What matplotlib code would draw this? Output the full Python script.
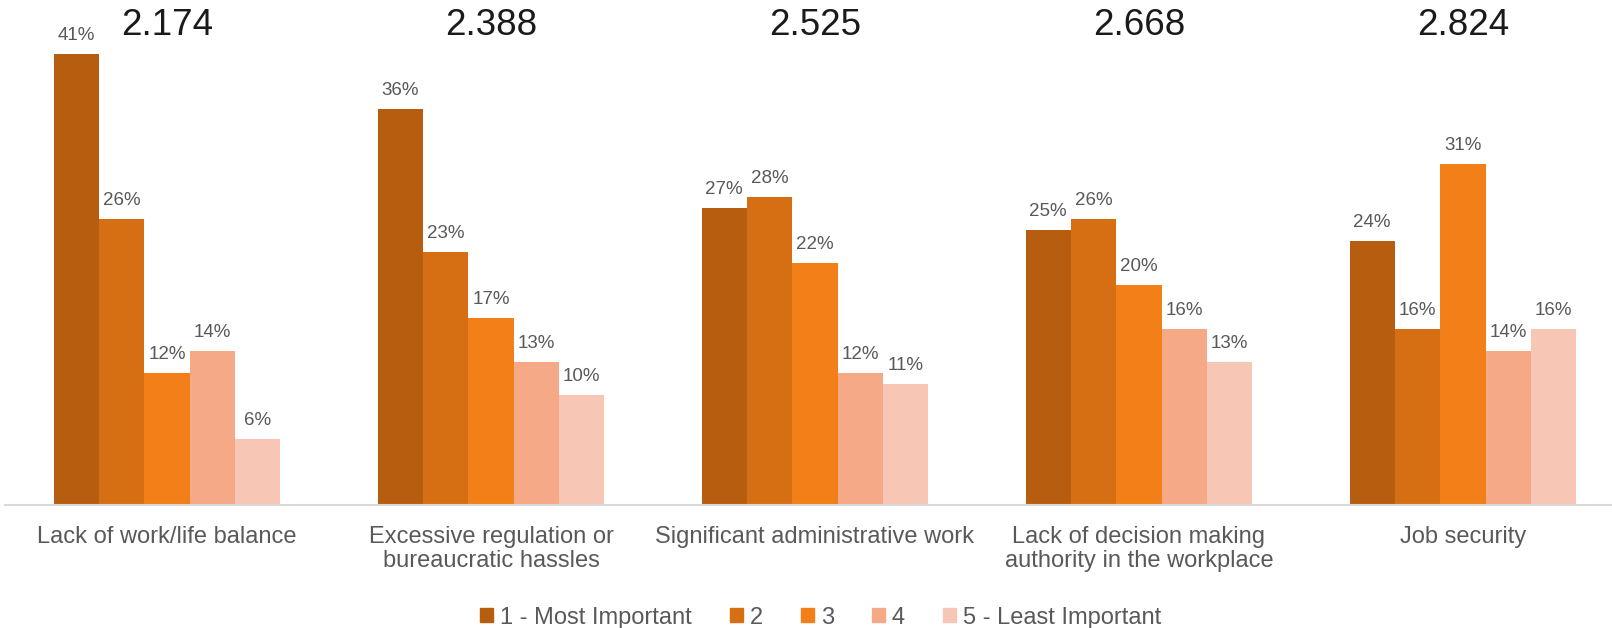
import numpy as np
import matplotlib
matplotlib.use("Agg")
import matplotlib.pyplot as plt
from matplotlib.patches import Patch

plt.rcParams['font.family'] = ['Liberation Sans', 'DejaVu Sans']

categories = [
    "Lack of work/life balance",
    "Excessive regulation or\nbureaucratic hassles",
    "Significant administrative work",
    "Lack of decision making\nauthority in the workplace",
    "Job security",
]
mean_scores = ["2.174", "2.388", "2.525", "2.668", "2.824"]
rank_labels = ["1 - Most Important", "2", "3", "4", "5 - Least Important"]

rank1 = [41, 36, 27, 25, 24]
rank2 = [26, 23, 28, 26, 16]
rank3 = [12, 17, 22, 20, 31]
rank4 = [14, 13, 12, 16, 14]
rank5 = [6, 10, 11, 13, 16]
series = [rank1, rank2, rank3, rank4, rank5]

colors = ["#B65D0F", "#D66E14", "#F27F18", "#F5A986", "#F8C6B5"]
label_grey = "#595959"

fig = plt.figure(figsize=(16.12, 6.28), dpi=100)
ax = fig.add_axes([5 / 1612, 123 / 628, 1607 / 1612, 505 / 628])

x = np.arange(len(categories))
width = 0.14
for i, (vals, col) in enumerate(zip(series, colors)):
    pos = x + (i - 2) * width
    bars = ax.bar(pos, vals, width, color=col, label=rank_labels[i])
    for b, v in zip(bars, vals):
        ax.annotate(f"{v}%", (b.get_x() + b.get_width() / 2, v),
                    xytext=(0, 7), textcoords="offset points",
                    ha="center", va="bottom", fontsize=13.5, color=label_grey)

# mean score above each group
for xi, s in zip(x, mean_scores):
    ax.text(xi, 43.6, s, ha="center", va="center", fontsize=26.5, color="#1a1a1a")

ax.set_xlim(-0.5, 4.46)
ax.set_ylim(0, 505 / 11)
ax.set_yticks([])
ax.set_xticks(x)
ax.set_xticklabels(categories, fontsize=17, color=label_grey, linespacing=1.15)
ax.tick_params(axis="x", length=0, pad=15)
for side in ["top", "right", "left"]:
    ax.spines[side].set_visible(False)
ax.spines["bottom"].set_color("#D9D9D9")
ax.spines["bottom"].set_linewidth(1.5)

handles = [Patch(color=c, label=l) for c, l in zip(colors, rank_labels)]
leg = fig.legend(handles=handles, loc="lower center", bbox_to_anchor=(0.509, -0.035),
                 ncol=5, frameon=False, fontsize=17, handlelength=0.55, handleheight=0.55,
                 handletextpad=0.3, columnspacing=1.6)
for t in leg.get_texts():
    t.set_color(label_grey)

fig.savefig("out.png", dpi=100)
